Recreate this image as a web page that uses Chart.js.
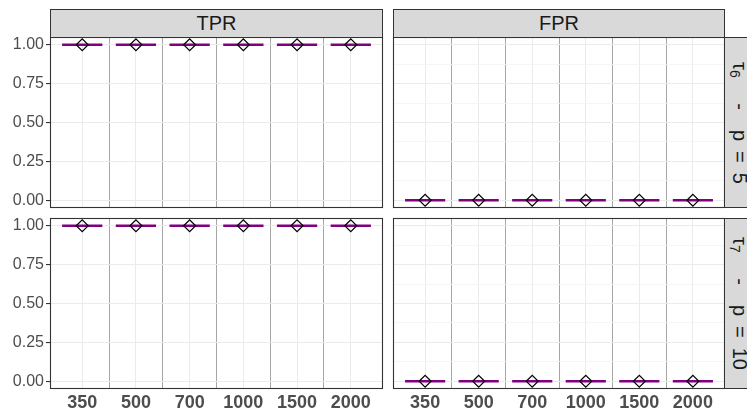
<!DOCTYPE html>
<html>
<head>
<meta charset="utf-8">
<script src="https://cdn.jsdelivr.net/npm/chart.js@4.4.1/dist/chart.umd.min.js"></script>
<style>
  html, body { margin: 0; padding: 0; background: #fff; }
  #wrap { position: relative; width: 747px; height: 410px; overflow: hidden; font-family: "Liberation Sans", Arial, sans-serif; }
  #wrap canvas { position: absolute; }
  .strip { position: absolute; box-sizing: border-box; background: #D9D9D9; border: 1px solid #333;
           color: #1A1A1A; font-size: 20px; display: flex; align-items: center; justify-content: center; }
  .strip.side span { writing-mode: vertical-rl; white-space: nowrap; }
  .strip sub { font-size: 14px; }
</style>
</head>
<body>
<div id="wrap"></div>
<script>
// ---- data ----
const sampleSizes = ['350', '500', '700', '1000', '1500', '2000'];
const metricNames = ['TPR', 'FPR'];
const settingLabels = ['τ<sub>6</sub>&emsp;&nbsp;-&emsp;p&ensp;=&ensp;5', 'τ<sub>7</sub>&emsp;&nbsp;-&emsp;p&ensp;=&ensp;10'];

// boxplot median (flat box) and mean (diamond) per sample size
const tprMedianP5  = [1, 1, 1, 1, 1, 1];
const tprMeanP5    = [1, 1, 1, 1, 1, 1];
const fprMedianP5  = [0, 0, 0, 0, 0, 0];
const fprMeanP5    = [0, 0, 0, 0, 0, 0];
const tprMedianP10 = [1, 1, 1, 1, 1, 1];
const tprMeanP10   = [1, 1, 1, 1, 1, 1];
const fprMedianP10 = [0, 0, 0, 0, 0, 0];
const fprMeanP10   = [0, 0, 0, 0, 0, 0];

const yTicks = [0, 0.25, 0.5, 0.75, 1];

// ---- layout ----
const colX = [[50, 383], [393, 725]];
const rowY = [[37, 208], [218, 389]];
const boxHalfWidth = 0.375;

const panels = [
    { row: 0, col: 0, median: tprMedianP5,  mean: tprMeanP5 },
    { row: 0, col: 1, median: fprMedianP5,  mean: fprMeanP5 },
    { row: 1, col: 0, median: tprMedianP10, mean: tprMeanP10 },
    { row: 1, col: 1, median: fprMedianP10, mean: fprMeanP10 }
];

const wrap = document.getElementById('wrap');

const panelBorder = {
    id: 'panelBorder',
    afterDraw(chart) {
        const a = chart.chartArea;
        const ctx = chart.ctx;
        ctx.save();
        ctx.strokeStyle = '#333333';
        ctx.lineWidth = 1.1;
        ctx.strokeRect(Math.round(a.left) + 0.5, Math.round(a.top) + 0.5,
                       Math.round(a.right - a.left) - 1, Math.round(a.bottom - a.top) - 1);
        ctx.restore();
    }
};

// minor ticks halfway between majors
const yAll = [];
yTicks.forEach((v, i) => {
    yAll.push(v);
    if (i < yTicks.length - 1) yAll.push((v + yTicks[i + 1]) / 2);
});
const isMajorY = v => yTicks.some(t => Math.abs(t - v) < 1e-9);

const xAll = [];
sampleSizes.forEach((s, i) => {
    xAll.push(i + 1);
    if (i < sampleSizes.length - 1) xAll.push(i + 1.5);
});

panels.forEach(p => {
    const [x0, x1] = colX[p.col];
    const [y0, y1] = rowY[p.row];
    const padL = p.col === 0 ? 50 : 10;
    const padR = 2;
    const padT = 12;
    const padB = p.row === 1 ? 21 : 10;

    const canvas = document.createElement('canvas');
    canvas.width = x1 - x0 + padL + padR;
    canvas.height = y1 - y0 + padT + padB;
    canvas.style.left = (x0 - padL) + 'px';
    canvas.style.top = (y0 - padT) + 'px';
    wrap.appendChild(canvas);

    const segs = [];
    p.median.forEach((v, i) => {
        segs.push({ x: i + 1 - boxHalfWidth, y: v });
        segs.push({ x: i + 1 + boxHalfWidth, y: v });
        segs.push({ x: i + 1.5, y: null });
    });
    const means = p.mean.map((v, i) => ({ x: i + 1, y: v }));

    new Chart(canvas, {
        type: 'line',
        data: {
            datasets: [{
                data: means,
                showLine: false,
                pointStyle: 'rectRot',
                pointRadius: 6,
                pointBorderColor: '#000000',
                pointBorderWidth: 1.2,
                pointBackgroundColor: 'rgba(0,0,0,0)'
            }, {
                data: segs,
                borderColor: '#800080',
                borderWidth: 2.6,
                pointRadius: 0,
                spanGaps: false
            }]
        },
        options: {
            responsive: false,
            animation: false,
            events: [],
            layout: {
                autoPadding: false,
                padding: {
                    left: p.col === 0 ? 0 : padL,
                    right: padR,
                    top: padT,
                    bottom: p.row === 1 ? 0 : padB
                }
            },
            plugins: { legend: { display: false }, tooltip: { enabled: false } },
            scales: {
                x: {
                    type: 'linear',
                    min: 0.4,
                    max: 6.6,
                    afterBuildTicks: s => { s.ticks = xAll.map(v => ({ value: v })); },
                    afterFit: s => {
                        s.height = p.row === 1 ? 21 : 0;
                        s.paddingLeft = 0;
                        s.paddingRight = 0;
                    },
                    border: { display: false },
                    grid: {
                        drawTicks: false,
                        color: c => Number.isInteger(c.tick.value) ? '#EBEBEB' : '#A6A6A6',
                        lineWidth: 1
                    },
                    ticks: {
                        display: p.row === 1,
                        autoSkip: false,
                        maxRotation: 0,
                        padding: 3,
                        color: '#4D4D4D',
                        font: { family: '"Liberation Sans", Arial, sans-serif', size: 18, weight: 'bold' },
                        callback: v => Number.isInteger(v) ? sampleSizes[v - 1] : ''
                    }
                },
                y: {
                    min: -0.05,
                    max: 1.05,
                    afterBuildTicks: s => { s.ticks = yAll.map(v => ({ value: v })); },
                    afterFit: s => {
                        s.width = p.col === 0 ? 50 : 0;
                        s.paddingTop = 0;
                        s.paddingBottom = 0;
                    },
                    border: { display: false },
                    grid: {
                        drawTicks: p.col === 0,
                        tickLength: 4,
                        color: c => isMajorY(c.tick.value) ? '#EBEBEB' : '#F4F4F4',
                        tickColor: c => isMajorY(c.tick.value) ? '#333333' : 'rgba(0,0,0,0)',
                        lineWidth: c => isMajorY(c.tick.value) ? 1.1 : 0.8
                    },
                    ticks: {
                        display: p.col === 0,
                        padding: 2,
                        color: '#4D4D4D',
                        font: { family: '"Liberation Sans", Arial, sans-serif', size: 16 },
                        callback: v => isMajorY(v) ? v.toFixed(2) : ''
                    }
                }
            }
        },
        plugins: [panelBorder]
    });
});

// facet strips
metricNames.forEach((name, c) => {
    const d = document.createElement('div');
    d.className = 'strip';
    d.style.left = colX[c][0] + 'px';
    d.style.top = '9px';
    d.style.width = (colX[c][1] - colX[c][0]) + 'px';
    d.style.height = '29px';
    d.textContent = name;
    wrap.appendChild(d);
});
settingLabels.forEach((label, r) => {
    const d = document.createElement('div');
    d.className = 'strip side';
    d.style.left = '724px';
    d.style.top = rowY[r][0] + 'px';
    d.style.width = '30px';
    d.style.height = (rowY[r][1] - rowY[r][0]) + 'px';
    d.innerHTML = '<span>' + label + '</span>';
    wrap.appendChild(d);
});
</script>
</body>
</html>
